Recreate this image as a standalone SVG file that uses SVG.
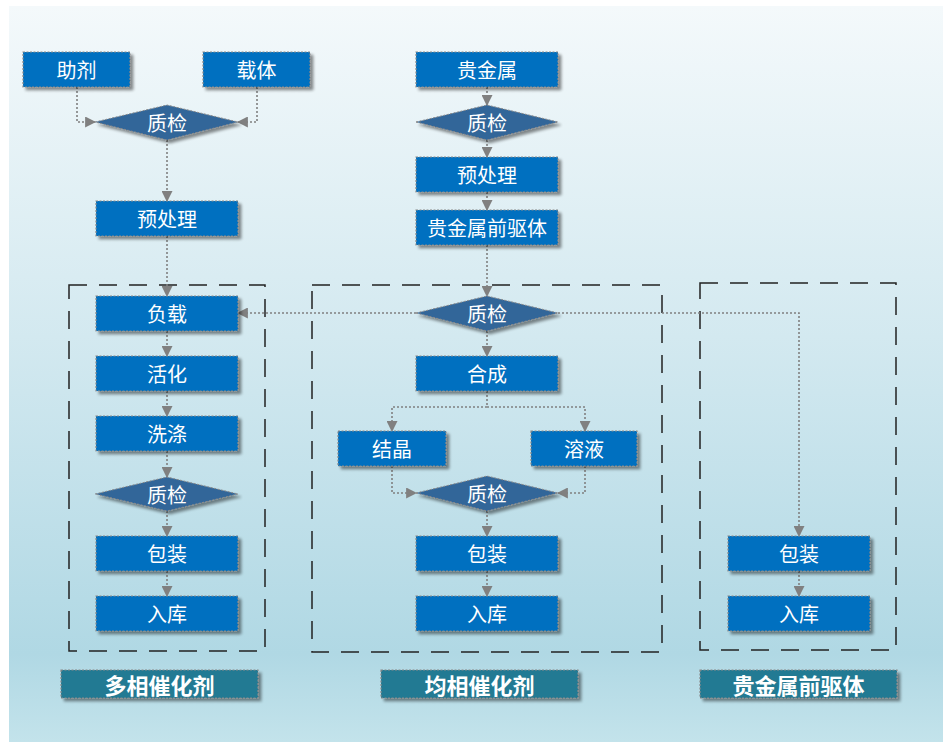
<svg xmlns="http://www.w3.org/2000/svg" width="943" height="742" viewBox="0 0 943 742">
<defs>
<linearGradient id="bg" x1="0" y1="0" x2="0" y2="1">
<stop offset="0" stop-color="#f4f9fb"/>
<stop offset="0.45" stop-color="#d3e9f0"/>
<stop offset="0.88" stop-color="#b0d8e4"/>
<stop offset="1" stop-color="#c3e3eb"/>
</linearGradient>
<filter id="sh" x="-10%" y="-20%" width="130%" height="160%">
<feGaussianBlur in="SourceAlpha" stdDeviation="1.5"/>
<feOffset dx="3" dy="3" result="b"/>
<feComponentTransfer><feFuncA type="linear" slope="0.45"/></feComponentTransfer>
<feMerge><feMergeNode/><feMergeNode in="SourceGraphic"/></feMerge>
</filter>
<marker id="ar" viewBox="0 0 10 10" refX="9" refY="5" markerWidth="11" markerHeight="11" markerUnits="userSpaceOnUse" orient="auto">
<path d="M0,0 L10,5 L0,10 z" fill="#808080"/>
</marker>
</defs>
<style>
.box{fill:#0070c0;stroke:#8a8a8a;stroke-width:1.2;stroke-dasharray:2 1.5;filter:url(#sh)}
.dia{fill:#336699;stroke:#8a8a8a;stroke-width:1;stroke-dasharray:2 1.5;filter:url(#sh)}
.lab{fill:#237a93;stroke:#8a8a8a;stroke-width:1.2;stroke-dasharray:2 1.5;filter:url(#sh)}
.t{font-family:"Noto Sans CJK SC","Microsoft YaHei",sans-serif;font-size:20px;fill:#ffffff;text-anchor:middle;dominant-baseline:central}
.tb{font-family:"Noto Sans CJK SC",sans-serif;font-size:22px;font-weight:bold;fill:#ffffff;text-anchor:middle;dominant-baseline:central}
.con{fill:none;stroke:#808080;stroke-width:1.6;stroke-dasharray:2 2;marker-end:url(#ar)}
.nc{fill:none;stroke:#808080;stroke-width:1.6;stroke-dasharray:2 2}
.grp{fill:none;stroke:#222;stroke-width:1.5;stroke-dasharray:18 12}
</style>
<rect x="0" y="0" width="943" height="742" fill="#ffffff"/>
<rect x="9" y="6" width="934" height="736" fill="url(#bg)"/>

<g id="groups">
<rect class="grp" x="69" y="285" width="196" height="366"/>
<rect class="grp" x="312" y="285" width="350" height="367"/>
<rect class="grp" x="700" y="283" width="196" height="367"/>
</g>

<g id="connectors">
<path class="con" d="M77,87 V122 H95"/>
<path class="con" d="M257,87 V122 H238"/>
<path class="con" d="M167,140 V201"/>
<path class="con" d="M167,236 V296"/>
<path class="con" d="M167,331 V356"/>
<path class="con" d="M167,391 V416"/>
<path class="con" d="M167,451 V477"/>
<path class="con" d="M167,511 V536"/>
<path class="con" d="M167,571 V596"/>
<path class="con" d="M487,87 V105"/>
<path class="con" d="M487,140 V157"/>
<path class="con" d="M487,192 V210"/>
<path class="con" d="M487,245 V296"/>
<path class="con" d="M416,313 H238"/>
<path class="con" d="M558,313 H799 V536"/>
<path class="con" d="M487,331 V356"/>
<path class="nc" d="M487,391 V407"/>
<path class="con" d="M487,407 H392 V431"/>
<path class="con" d="M487,407 H585 V431"/>
<path class="con" d="M392,466 V493 H416"/>
<path class="con" d="M585,466 V493 H558"/>
<path class="con" d="M487,511 V536"/>
<path class="con" d="M487,571 V596"/>
<path class="con" d="M799,571 V596"/>
</g>

<g id="n_zhuji"><rect class="box" x="23" y="52" width="107" height="35"/><text class="t" x="76.5" y="69.5">助剂</text></g>
<g id="n_zaiti"><rect class="box" x="203" y="52" width="107" height="35"/><text class="t" x="256.5" y="69.5">载体</text></g>
<g id="n_zhijian1"><polygon class="dia" points="95,122 167,105 238,122 167,140"/><text class="t" x="167" y="122">质检</text></g>
<g id="n_yuchuli1"><rect class="box" x="96" y="201" width="142" height="35"/><text class="t" x="167" y="218.5">预处理</text></g>

<g id="n_guijinshu"><rect class="box" x="416" y="52" width="142" height="35"/><text class="t" x="487" y="69.5">贵金属</text></g>
<g id="n_zhijian2"><polygon class="dia" points="416,122 487,105 558,122 487,140"/><text class="t" x="487" y="122">质检</text></g>
<g id="n_yuchuli2"><rect class="box" x="416" y="157" width="142" height="35"/><text class="t" x="487" y="174.5">预处理</text></g>
<g id="n_qianquti"><rect class="box" x="416" y="210" width="142" height="35"/><text class="t" x="487" y="227.5">贵金属前驱体</text></g>

<g id="n_fuzai"><rect class="box" x="96" y="296" width="142" height="35"/><text class="t" x="167" y="313.5">负载</text></g>
<g id="n_huohua"><rect class="box" x="96" y="356" width="142" height="35"/><text class="t" x="167" y="373.5">活化</text></g>
<g id="n_xidi"><rect class="box" x="96" y="416" width="142" height="35"/><text class="t" x="167" y="433.5">洗涤</text></g>
<g id="n_zhijian3"><polygon class="dia" points="95,494 167,477 238,494 167,511"/><text class="t" x="167" y="494">质检</text></g>
<g id="n_baozhuang1"><rect class="box" x="96" y="536" width="142" height="35"/><text class="t" x="167" y="553.5">包装</text></g>
<g id="n_ruku1"><rect class="box" x="96" y="596" width="142" height="35"/><text class="t" x="167" y="613.5">入库</text></g>

<g id="n_zhijian4"><polygon class="dia" points="416,313 487,296 558,313 487,331"/><text class="t" x="487" y="313">质检</text></g>
<g id="n_hecheng"><rect class="box" x="416" y="356" width="142" height="35"/><text class="t" x="487" y="373.5">合成</text></g>
<g id="n_jiejing"><rect class="box" x="338" y="431" width="108" height="35"/><text class="t" x="392" y="448.5">结晶</text></g>
<g id="n_rongye"><rect class="box" x="531" y="431" width="106" height="35"/><text class="t" x="584" y="448.5">溶液</text></g>
<g id="n_zhijian5"><polygon class="dia" points="416,493 487,476 558,493 487,511"/><text class="t" x="487" y="493">质检</text></g>
<g id="n_baozhuang2"><rect class="box" x="416" y="536" width="142" height="35"/><text class="t" x="487" y="553.5">包装</text></g>
<g id="n_ruku2"><rect class="box" x="416" y="596" width="142" height="35"/><text class="t" x="487" y="613.5">入库</text></g>

<g id="n_baozhuang3"><rect class="box" x="728" y="536" width="142" height="35"/><text class="t" x="799" y="553.5">包装</text></g>
<g id="n_ruku3"><rect class="box" x="728" y="596" width="142" height="35"/><text class="t" x="799" y="613.5">入库</text></g>

<g id="l_duoxiang"><rect class="lab" x="61" y="670" width="197" height="28"/><text class="tb" x="159.5" y="684">多相催化剂</text></g>
<g id="l_junxiang"><rect class="lab" x="381" y="670" width="197" height="28"/><text class="tb" x="479.5" y="684">均相催化剂</text></g>
<g id="l_qianquti"><rect class="lab" x="700" y="670" width="197" height="28"/><text class="tb" x="798.5" y="684">贵金属前驱体</text></g>
</svg>
